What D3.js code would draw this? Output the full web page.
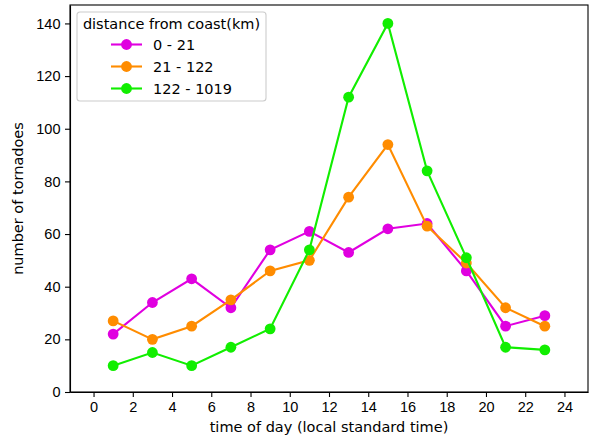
<!DOCTYPE html>
<html>
<head>
<meta charset="utf-8">
<script src="https://cdn.jsdelivr.net/npm/d3@7"></script>
<style>
  body { margin: 0; background: #fff; }
  svg { display: block; font-family: "DejaVu Sans", sans-serif; }
  .axis text { font-size: 14.5px; fill: #000; }
  .axis path, .axis line { stroke: #000; stroke-width: 1.1px; }
</style>
</head>
<body>
<svg id="chart"></svg>
<script>
// data
const hours = [1, 3, 5, 7, 9, 11, 13, 15, 17, 19, 21, 23];
const seriesNames = ['0 - 21', '21 - 122', '122 - 1019'];
const near = [22, 34, 43, 32, 54, 61, 53, 62, 64, 46, 25, 29];
const middle = [27, 20, 25, 35, 46, 50, 74, 94, 63, 49, 32, 25];
const far = [10, 15, 10, 17, 24, 54, 112, 140, 84, 51, 17, 16];
const colors = ['#e000e0', '#ff8c00', '#11ee00'];
const xTicks = [0, 2, 4, 6, 8, 10, 12, 14, 16, 18, 20, 22, 24];
const yTicks = [0, 20, 40, 60, 80, 100, 120, 140];

const W = 590, H = 440;
const margin = { top: 5, right: 2, bottom: 48, left: 70 };
const width = W - margin.left - margin.right;
const height = H - margin.top - margin.bottom;

const svg = d3.select('#chart').attr('width', W).attr('height', H);
const chart = svg.append('g')
    .attr('transform', `translate(${margin.left},${margin.top})`);

const xScale = d3.scaleLinear().domain([-1.2, 25.2]).range([0, width]);
const yScale = d3.scaleLinear().domain([0, 147]).range([height, 0]);

const xAxis = d3.axisBottom(xScale).tickValues(xTicks).tickSize(5).tickPadding(4.5).tickSizeOuter(0);
const yAxis = d3.axisLeft(yScale).tickValues(yTicks).tickSize(5).tickPadding(4.5).tickSizeOuter(0);

chart.append('g').attr('class', 'axis x-axis')
    .attr('transform', `translate(0,${height})`)
    .call(xAxis);
chart.append('g').attr('class', 'axis y-axis')
    .call(yAxis);

// frame
chart.append('rect')
    .attr('width', width).attr('height', height)
    .attr('fill', 'none').attr('stroke', '#000').attr('stroke-width', 1.1);

const series = [near, middle, far].map((vals, i) => ({
    name: seriesNames[i],
    color: colors[i],
    points: hours.map((h, j) => ({ x: h, y: vals[j] }))
}));

const line = d3.line().x(d => xScale(d.x)).y(d => yScale(d.y));

series.forEach(s => {
    const g = chart.append('g');
    g.append('path')
        .attr('d', line(s.points))
        .attr('fill', 'none')
        .attr('stroke', s.color)
        .attr('stroke-width', 2.1);
    g.selectAll('circle')
        .data(s.points)
        .enter()
        .append('circle')
        .attr('cx', d => xScale(d.x))
        .attr('cy', d => yScale(d.y))
        .attr('r', 5.4)
        .attr('fill', s.color);
});

// axis labels
svg.append('text')
    .attr('x', margin.left + width / 2)
    .attr('y', 432)
    .attr('text-anchor', 'middle')
    .style('font-size', '14.5px')
    .text('time of day (local standard time)');

svg.append('text')
    .attr('transform', `translate(23,${margin.top + height / 2}) rotate(-90)`)
    .attr('text-anchor', 'middle')
    .style('font-size', '14.5px')
    .text('number of tornadoes');

// legend
const legend = svg.append('g').attr('transform', 'translate(77,12)');
legend.append('rect')
    .attr('width', 189).attr('height', 89)
    .attr('rx', 3)
    .attr('fill', '#fff').attr('fill-opacity', 0.8)
    .attr('stroke', '#ccc').attr('stroke-width', 1.1);
legend.append('text')
    .attr('x', 94.5).attr('y', 17)
    .attr('text-anchor', 'middle')
    .style('font-size', '14.5px')
    .text('distance from coast(km)');

series.forEach((s, i) => {
    const cy = 32.5 + i * 22;
    legend.append('line')
        .attr('x1', 34).attr('x2', 65)
        .attr('y1', cy).attr('y2', cy)
        .attr('stroke', s.color).attr('stroke-width', 2.1);
    legend.append('circle')
        .attr('cx', 49.5).attr('cy', cy).attr('r', 5.4)
        .attr('fill', s.color);
    legend.append('text')
        .attr('x', 76).attr('y', cy)
        .attr('dy', '0.35em')
        .style('font-size', '14.5px')
        .text(s.name);
});
</script>
</body>
</html>
